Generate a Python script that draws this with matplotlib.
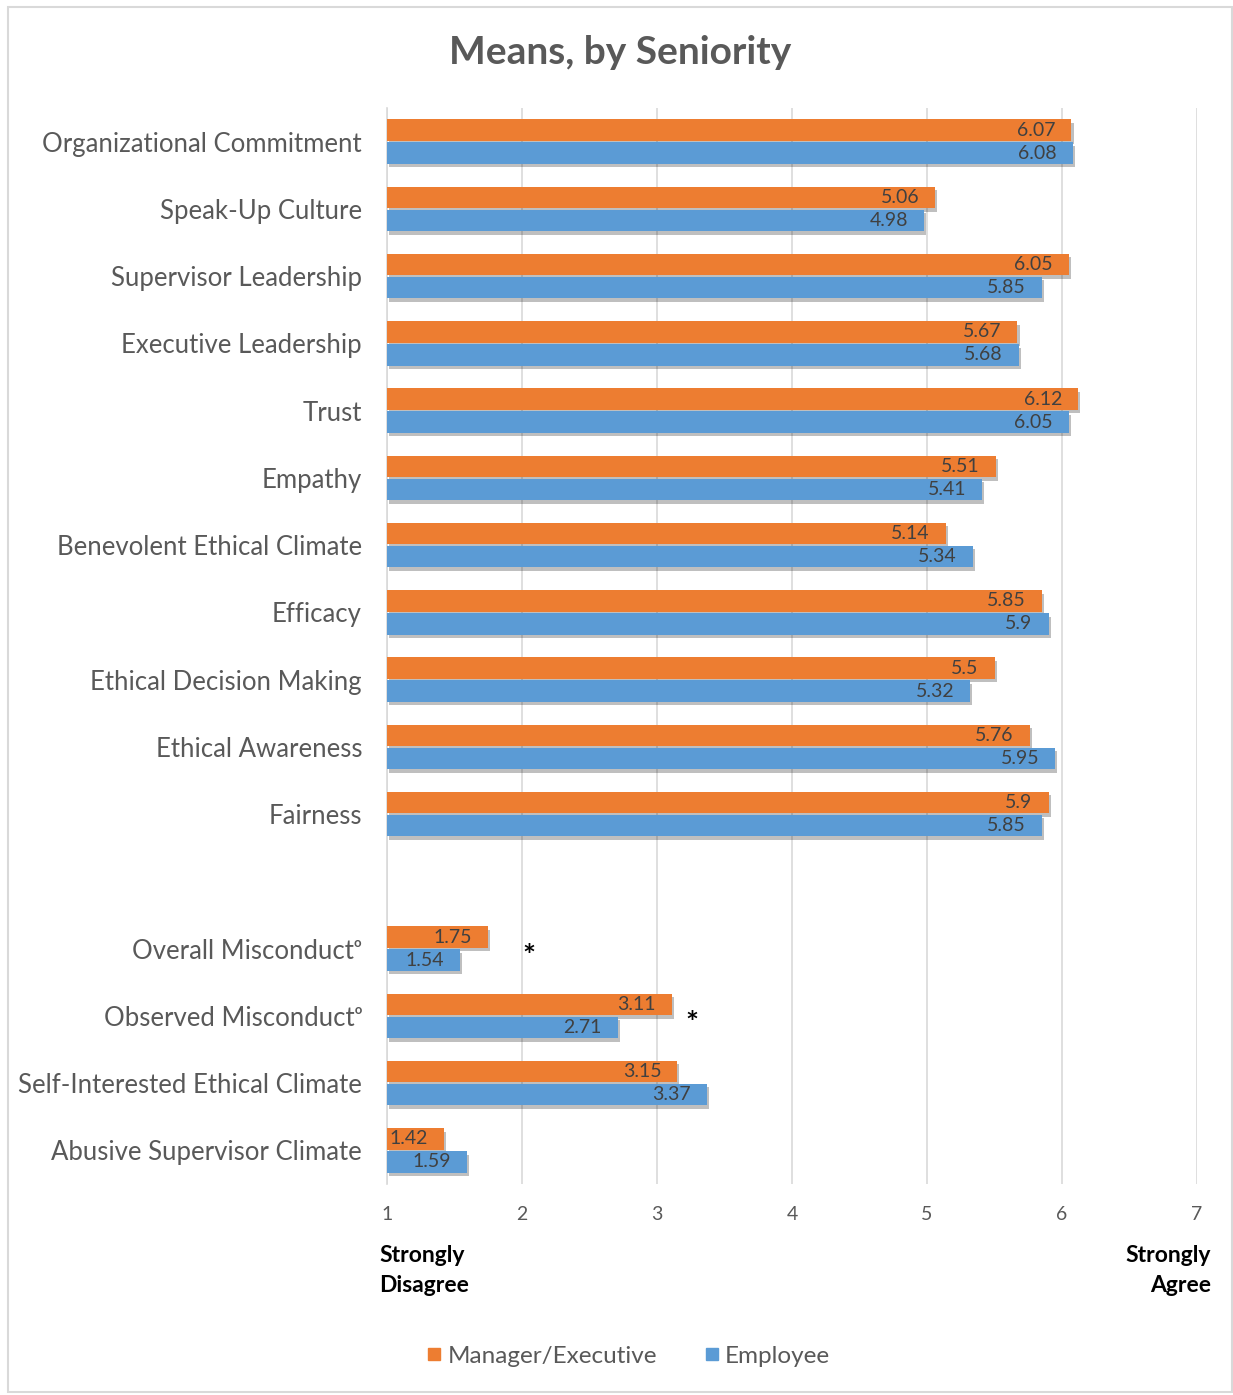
import matplotlib.pyplot as plt
import matplotlib.patheffects as pe
from matplotlib.patches import Rectangle
from matplotlib.lines import Line2D
import numpy as np

plt.rcParams['font.family'] = ['Lato', 'DejaVu Sans']

# données
categories = ['Organizational Commitment', 'Speak-Up Culture', 'Supervisor Leadership',
              'Executive Leadership', 'Trust', 'Empathy', 'Benevolent Ethical Climate',
              'Efficacy', 'Ethical Decision Making', 'Ethical Awareness', 'Fairness',
              'Overall Misconduct\u1d52', 'Observed Misconduct\u1d52',
              'Self-Interested Ethical Climate', 'Abusive Supervisor Climate']
manager = [6.07, 5.06, 6.05, 5.67, 6.12, 5.51, 5.14, 5.85, 5.5, 5.76, 5.9,
           1.75, 3.11, 3.15, 1.42]
employee = [6.08, 4.98, 5.85, 5.68, 6.05, 5.41, 5.34, 5.9, 5.32, 5.95, 5.85,
            1.54, 2.71, 3.37, 1.59]
labels_mgr = ['6.07', '5.06', '6.05', '5.67', '6.12', '5.51', '5.14', '5.85', '5.5', '5.76', '5.9',
              '1.75', '3.11', '3.15', '1.42']
labels_emp = ['6.08', '4.98', '5.85', '5.68', '6.05', '5.41', '5.34', '5.9', '5.32', '5.95', '5.85',
              '1.54', '2.71', '3.37', '1.59']
star_rows = [11, 12]
star_x = [2.05, 3.26]

orange = '#ED7D31'
blue = '#5B9BD5'

# positions (un espace vide entre Fairness et Overall Misconduct)
pos = np.array(list(range(11)) + [12, 13, 14, 15], dtype=float)

fig = plt.figure(figsize=(12.33, 13.95), dpi=100)
ax = fig.add_axes([387 / 1233, 1 - 1184 / 1395, 810 / 1233, (1184 - 108) / 1395])

h = 0.32
off = 0.17
shadow = [pe.SimplePatchShadow(offset=(1.5, -2.5), shadow_rgbFace='black', alpha=0.25), pe.Normal()]
bm = ax.barh(pos - off, np.array(manager) - 1, left=1, height=h, color=orange, zorder=3)
be = ax.barh(pos + off, np.array(employee) - 1, left=1, height=h, color=blue, zorder=3)
for b in list(bm) + list(be):
    b.set_path_effects(shadow)

for p, v, t in zip(pos, manager, labels_mgr):
    ax.annotate(t, (v, p - off), xytext=(-16, 0), textcoords='offset pixels',
                ha='right', va='center', fontsize=14, color='#404040', zorder=5)
for p, v, t in zip(pos, employee, labels_emp):
    ax.annotate(t, (v, p + off), xytext=(-16, 0), textcoords='offset pixels',
                ha='right', va='center', fontsize=14, color='#404040', zorder=5)

for r, x in zip(star_rows, star_x):
    ax.text(x, pos[r] + 0.12, '*', ha='center', va='center', fontsize=22, fontweight='bold', color='black')

ax.set_xlim(1, 7)
ax.set_ylim(pos[-1] + 0.5, pos[0] - 0.5)
ax.set_xticks(range(1, 8))
ax.tick_params(axis='x', length=0, pad=16, labelsize=14, labelcolor='#595959')
ax.set_yticks(pos)
ax.set_yticklabels(categories)
ax.tick_params(axis='y', length=0, pad=18, labelsize=18.5, labelcolor='#595959')
ax.grid(axis='x', color='#d9d9d9', linewidth=1.2, zorder=0)
for s in ['top', 'right', 'bottom']:
    ax.spines[s].set_visible(False)
ax.spines['left'].set_color('#d9d9d9')
ax.spines['left'].set_linewidth(1.2)

fig.text(620 / 1233, 1 - 52 / 1395, 'Means, by Seniority', ha='center', va='center',
         fontsize=28, fontweight='bold', color='#595959')

fig.text(379 / 1233, 1 - 1255 / 1395, 'Strongly', ha='left', va='center', fontsize=16.5, fontweight='bold')
fig.text(379 / 1233, 1 - 1286 / 1395, 'Disagree', ha='left', va='center', fontsize=16.5, fontweight='bold')
fig.text(1211 / 1233, 1 - 1255 / 1395, 'Strongly', ha='right', va='center', fontsize=16.5, fontweight='bold')
fig.text(1211 / 1233, 1 - 1286 / 1395, 'Agree', ha='right', va='center', fontsize=16.5, fontweight='bold')

handles = [Line2D([], [], marker='s', linestyle='', color=orange, markersize=9),
           Line2D([], [], marker='s', linestyle='', color=blue, markersize=9)]
fig.legend(handles, ['Manager/Executive', 'Employee'], loc='center',
           bbox_to_anchor=(623 / 1233, 1 - 1356 / 1395), ncol=2, frameon=False,
           fontsize=17.5, labelcolor='#595959', handletextpad=-0.2, columnspacing=1.5,
           handlelength=1.5)

fig.patches.append(Rectangle((8 / 1233, 1 - 1392 / 1395), 1224 / 1233, 1385 / 1395,
                             transform=fig.transFigure, fill=False, edgecolor='#d9d9d9', linewidth=1.5))

plt.savefig('out.png', dpi=100)
